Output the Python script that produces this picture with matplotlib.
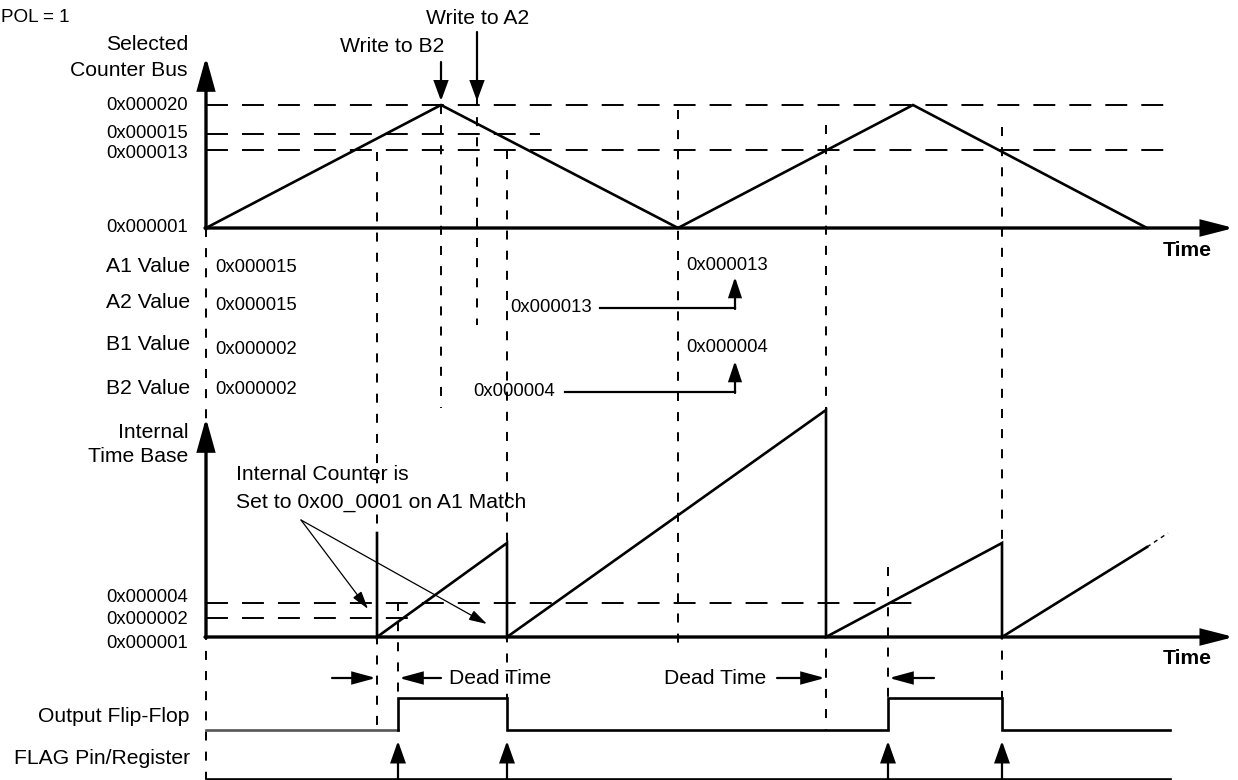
import matplotlib
matplotlib.use("Agg")
import matplotlib.pyplot as plt

plt.rcParams['font.family'] = ['Liberation Sans', 'DejaVu Sans']
plt.rcParams['lines.scale_dashes'] = False

# ---------------- data (diagram units: x = time, y = drawn level) ----------------
W, H = 1238, 780
origin_x = 206

# Selected counter bus (up/down counter)
bus_tick_labels = ['0x000020', '0x000015', '0x000013', '0x000001']
bus_tick_y = [105, 134, 150, 228]
bus_label_y = [105, 134, 153, 228]
bus_ref_end = [1170, 540, 1170]
bus_t = [206, 441, 678, 913, 1147]
bus_v = [228, 105, 228, 105, 228]

# Internal time base (sawtooth)
tb_tick_labels = ['0x000004', '0x000002', '0x000001']
tb_tick_y = [603, 618, 637]
tb_label_y = [598, 620, 643]
tb_ref_end = [925, 415]
saw_t = [377, 377, 507, 507, 826, 826, 1002, 1002, 1147]
saw_v = [533, 637, 543, 637, 410, 637, 543, 637, 547]
saw_tail_t = [1147, 1168]
saw_tail_v = [547, 533]

# Register rows
reg_names = ['A1 Value', 'A2 Value', 'B1 Value', 'B2 Value']
reg_name_y = [267, 303, 344, 389]
reg_init = ['0x000015', '0x000015', '0x000002', '0x000002']
reg_init_y = [268, 305, 349, 390]
reg_new = ['0x000013', '0x000013', '0x000004', '0x000004']

# Output flip-flop and flag
ff_t = [206, 398, 398, 507, 507, 888, 888, 1002, 1002, 1170]
ff_v = [730, 730, 698, 698, 730, 730, 698, 698, 730, 730]
flag_t = [398, 507, 888, 1002]

# vertical dashed guides: x, top, bottom
guide_t = [206, 377, 441, 477, 507, 678, 826, 1002, 888, 398]
guide_top = [228, 152, 105, 97, 150, 110, 125, 127, 567, 602]
guide_bot = [779, 730, 408, 325, 698, 648, 730, 698, 697, 697]

# ---------------- drawing ----------------
fig = plt.figure(figsize=(W / 100, H / 100), dpi=100)
ax = fig.add_axes([0, 0, 1, 1])
ax.set_xlim(0, W)
ax.set_ylim(H, 0)
ax.axis('off')

FS = 15.2    # words
FH = 13.3    # hex numbers
K = 'black'
HD = (15.8, 10.1)   # horizontal dash pattern
VD = (6.5, 8.0)     # vertical dash pattern


def hdash(x0, x1, y):
    ax.plot([x0, x1], [y, y], color=K, lw=1.4, dashes=HD, solid_capstyle='butt')


def vdash(x, y0, y1):
    ax.plot([x, x], [y0, y1], color=K, lw=1.4, dashes=VD)


def arrow(x0, y0, x1, y1, lw=1.5, hl=0.7, hw=0.3, ms=20):
    ax.annotate('', xy=(x1, y1), xytext=(x0, y0),
                arrowprops=dict(arrowstyle=f'-|>,head_length={hl},head_width={hw}',
                                mutation_scale=ms, lw=lw, color=K,
                                shrinkA=0, shrinkB=0, joinstyle='miter'))


# guides
for x, y0, y1 in zip(guide_t, guide_top, guide_bot):
    vdash(x, y0, y1)

# horizontal references
for y, xe in zip(bus_tick_y[:3], bus_ref_end):
    hdash(origin_x, xe, y)
for y, xe in zip(tb_tick_y[:2], tb_ref_end):
    hdash(origin_x, xe, y)

# axes top
arrow(origin_x, 229, origin_x, 57, lw=2.4, hl=0.97, hw=0.27)
arrow(origin_x - 1, 228, 1234, 228, lw=2.4, hl=0.94, hw=0.24)
# axes bottom
arrow(origin_x, 638, origin_x, 418, lw=2.4, hl=0.97, hw=0.27)
arrow(origin_x - 1, 637, 1234, 637, lw=2.4, hl=0.94, hw=0.24)

# bus triangle
ax.plot(bus_t, bus_v, color=K, lw=1.9, solid_joinstyle='miter')

# sawtooth
ax.plot(saw_t, saw_v, color=K, lw=1.9, solid_joinstyle='miter')
ax.plot(saw_tail_t, saw_tail_v, color=K, lw=1.0, dashes=(3, 3))

# flip flop
ax.plot(ff_t[:2], ff_v[:2], color='#555555', lw=1.9)
ax.plot(ff_t[1:], ff_v[1:], color=K, lw=1.9, solid_joinstyle='miter')

# flag
ax.plot([origin_x, 1170], [779, 779], color=K, lw=1.9)
for x in flag_t:
    arrow(x, 779, x, 741, lw=1.6, hl=0.65, hw=0.23)

# write arrows
arrow(477, 32, 477, 101, lw=1.6, hl=0.6, hw=0.22)
arrow(441, 62, 441, 101, lw=1.6, hl=0.6, hw=0.22)
ax.text(478, 18, 'Write to A2', fontsize=FS, ha='center', va='center')
ax.text(392, 47, 'Write to B2', fontsize=FS, ha='center', va='center')
ax.text(1, 18, 'POL = 1', fontsize=13.6, ha='left', va='center')

# axis titles
ax.text(188, 45, 'Selected', fontsize=FS, ha='right', va='center')
ax.text(188, 70, 'Counter Bus', fontsize=FS, ha='right', va='center')
ax.text(188, 432, 'Internal', fontsize=FS, ha='right', va='center')
ax.text(188, 457, 'Time Base', fontsize=FS, ha='right', va='center')
ax.text(1187, 251, 'Time', fontsize=FS, ha='center', va='center', fontweight='bold')
ax.text(1187, 659, 'Time', fontsize=FS, ha='center', va='center', fontweight='bold')

for lab, y in zip(bus_tick_labels, bus_label_y):
    ax.text(188, y, lab, fontsize=FH, ha='right', va='center')
for lab, y in zip(tb_tick_labels, tb_label_y):
    ax.text(188, y, lab, fontsize=FH, ha='right', va='center')

# register rows
for name, y in zip(reg_names, reg_name_y):
    ax.text(190, y, name, fontsize=FS, ha='right', va='center')
for val, y in zip(reg_init, reg_init_y):
    ax.text(215, y, val, fontsize=FH, ha='left', va='center')

ax.text(686, 265, reg_new[0], fontsize=FH, ha='left', va='center')
ax.text(686, 348, reg_new[2], fontsize=FH, ha='left', va='center')
ax.text(510, 308, reg_new[1], fontsize=FH, ha='left', va='center')
ax.text(473, 391, reg_new[3], fontsize=FH, ha='left', va='center')
ax.plot([600, 735], [308, 308], color=K, lw=1.6)
arrow(735, 309, 735, 277, lw=1.6, hl=0.6, hw=0.2)
ax.plot([565, 735], [392, 392], color=K, lw=1.6)
arrow(735, 393, 735, 361, lw=1.6, hl=0.6, hw=0.2)

# annotation
ax.text(236, 475, 'Internal Counter is', fontsize=FS, ha='left', va='center')
ax.text(236, 502, 'Set to 0x00_0001 on A1 Match', fontsize=FS, ha='left', va='center')
arrow(301, 520, 368, 609, lw=0.9, hl=0.55, hw=0.16)
arrow(301, 520, 487, 624, lw=0.9, hl=0.55, hw=0.16)

# dead time
arrow(332, 678, 376, 678, lw=1.6, hl=0.7, hw=0.19)
arrow(441, 678, 399, 678, lw=1.6, hl=0.7, hw=0.19)
ax.text(449, 679, 'Dead Time', fontsize=FS, ha='left', va='center')
ax.text(766, 679, 'Dead Time', fontsize=FS, ha='right', va='center')
arrow(777, 678, 825, 678, lw=1.6, hl=0.7, hw=0.19)
arrow(934, 678, 889, 678, lw=1.6, hl=0.7, hw=0.19)

# signal labels
ax.text(190, 717, 'Output Flip-Flop', fontsize=FS, ha='right', va='center')
ax.text(190, 758, 'FLAG Pin/Register', fontsize=FS, ha='right', va='center')

fig.savefig('out.png', dpi=100)
